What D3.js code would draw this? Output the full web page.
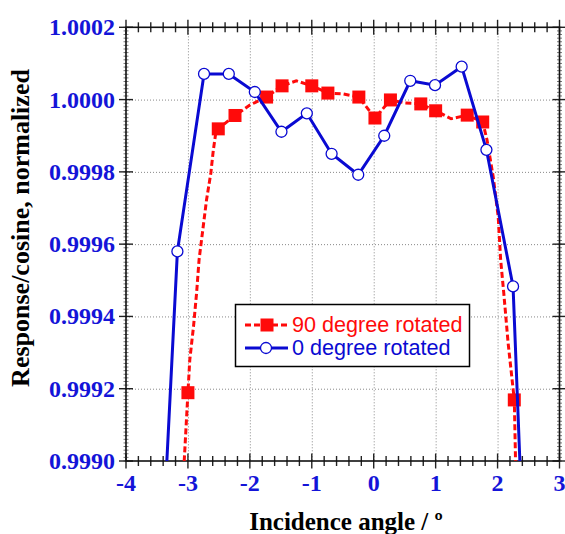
<!DOCTYPE html>
<meta charset="utf-8">
<script src="https://cdn.jsdelivr.net/npm/d3@7"></script>
<style>
body { margin: 0; background: #fff; }
.tick-label { font: bold 24px "Liberation Serif", "Times New Roman", serif; fill: #1414d8; }
.axis-title { font: bold 25px "Liberation Serif", "Times New Roman", serif; fill: #000; }
.legend-text { font: 21.6px "Liberation Sans", Arial, sans-serif; }
</style>
<body>
<script>

// 90 degree rotated: dashed line and its square markers
var redLineX = [-3.12, -3.06, -3.0, -2.97, -2.91, -2.86, -2.82, -2.70, -2.63, -2.59, -2.55, -2.51,
                -2.24, -2.0, -1.73, -1.48, -1.25, -1.0, -0.74, -0.5, -0.24, 0.02, 0.27, 0.5, 0.76,
                1.0, 1.25, 1.51, 1.76, 1.83, 1.93, 2.01, 2.05, 2.10, 2.17, 2.27, 2.29, 2.32];
var redLineY = [0.99880, 0.99900, 0.999189, 0.99928, 0.999372, 0.999465, 0.999557, 0.999722, 0.999797, 0.99986, 0.999908, 0.999919,
                0.999956, 0.999985, 1.000007, 1.000038, 1.000052, 1.000038, 1.000018, 1.000016, 1.000007, 0.999949, 0.999999, 0.999991, 0.999988,
                0.999969, 0.999947, 0.999957, 0.999938, 0.999888, 0.999786, 0.999676, 0.999556, 0.999465, 0.999327, 0.999169, 0.999003, 0.99880];
var redMarkX = [-3.0, -2.51, -2.24, -1.73, -1.48, -1.0, -0.74, -0.24, 0.02, 0.27, 0.76, 1.0, 1.51, 1.76, 2.27];
var redMarkY = [0.999189, 0.999919, 0.999956, 1.000007, 1.000038, 1.000038, 1.000018, 1.000007, 0.999949, 0.999999, 0.999988, 0.999969, 0.999957, 0.999938, 0.999169];

// 0 degree rotated
var blueX = [-3.59, -3.17, -2.74, -2.34, -1.92, -1.49, -1.08, -0.68, -0.25, 0.17, 0.59, 0.99, 1.42, 1.82, 2.25, 2.67];
var blueY = [0.99815, 0.99958, 1.000071, 1.000071, 1.000021, 0.999911, 0.999962, 0.99985, 0.999792, 0.9999, 1.000052, 1.00004, 1.000091, 0.999861, 0.999483, 0.99764];

var xTicks = [-4, -3, -2, -1, 0, 1, 2, 3];
var yTicks = [0.9990, 0.9992, 0.9994, 0.9996, 0.9998, 1.0000, 1.0002];
var seriesNames = ["90 degree rotated", "0 degree rotated"];

var width = 565, height = 534;
var pL = 126, pR = 559.5, pT = 27.3, pB = 461;
var red = "#ff0a0a", blue = "#0a0ad2";

var x = d3.scaleLinear().domain([-4, 3]).range([pL, pR]);
var y = d3.scaleLinear().domain([0.9990, 1.0002]).range([pB, pT]);

var svg = d3.select("body").append("svg")
    .attr("width", width)
    .attr("height", height);

svg.append("clipPath").attr("id", "plot")
  .append("rect")
    .attr("x", pL).attr("y", pT)
    .attr("width", pR - pL).attr("height", pB - pT);

// grid
var grid = svg.append("g").attr("stroke", "#888").attr("stroke-width", 1).attr("stroke-dasharray", "1,2");
grid.selectAll(".gx").data(xTicks.slice(1, -1)).enter().append("line")
    .attr("x1", function(d) { return x(d) + 0.5; }).attr("x2", function(d) { return x(d) + 0.5; })
    .attr("y1", pT).attr("y2", pB);
grid.selectAll(".gy").data(yTicks.slice(1, -1)).enter().append("line")
    .attr("y1", function(d) { return y(d) + 0.5; }).attr("y2", function(d) { return y(d) + 0.5; })
    .attr("x1", pL).attr("x2", pR);

// ticks
var ticks = svg.append("g").attr("stroke", "#222");
var xMinor = d3.range(-40, 31, 2).map(function(d) { return d / 10; });
[pB, pT].forEach(function(yy) {
  ticks.selectAll(null).data(xMinor).enter().append("line")
      .attr("x1", function(d) { return x(d); }).attr("x2", function(d) { return x(d); })
      .attr("y1", function(d) { return yy - (Math.abs(d % 1) < 1e-9 ? 7.5 : 5); })
      .attr("y2", function(d) { return yy + (Math.abs(d % 1) < 1e-9 ? 7.5 : 5); })
      .attr("stroke-width", 1.4);
});
var yMinor = d3.range(0, 121).map(function(i) { return 0.9990 + i * 0.00001; });
[pL, pR].forEach(function(xx) {
  ticks.selectAll(null).data(yMinor).enter().append("line")
      .attr("y1", function(d) { return y(d); }).attr("y2", function(d) { return y(d); })
      .attr("x1", xx - 2.5).attr("x2", xx + 2.5)
      .attr("stroke", "#777").attr("stroke-width", 1);
  ticks.selectAll(null).data(yTicks).enter().append("line")
      .attr("y1", function(d) { return y(d); }).attr("y2", function(d) { return y(d); })
      .attr("x1", xx - 7).attr("x2", xx + 7)
      .attr("stroke-width", 1.4);
});

// frame
svg.append("rect")
    .attr("x", pL).attr("y", pT)
    .attr("width", pR - pL).attr("height", pB - pT)
    .attr("fill", "none").attr("stroke", "#111").attr("stroke-width", 1.6);

// tick labels
svg.selectAll(".xl").data(xTicks).enter().append("text")
    .attr("class", "tick-label")
    .attr("x", function(d) { return x(d); })
    .attr("y", 491)
    .attr("text-anchor", "middle")
    .text(function(d) { return d; });
svg.selectAll(".yl").data(yTicks).enter().append("text")
    .attr("class", "tick-label")
    .attr("x", 115)
    .attr("y", function(d) { return y(d) + 8; })
    .attr("text-anchor", "end")
    .text(function(d) { return d.toFixed(4); });

// titles
svg.append("text").attr("class", "axis-title")
    .attr("x", 346).attr("y", 530)
    .attr("text-anchor", "middle")
    .text("Incidence angle / º");
svg.append("text").attr("class", "axis-title")
    .attr("transform", "translate(29,228) rotate(-90)")
    .attr("text-anchor", "middle")
    .style("font-size", "26px")
    .text("Response/cosine, normalized");

// series
var plot = svg.append("g").attr("clip-path", "url(#plot)");

var redLine = d3.line()
    .x(function(d, i) { return x(redLineX[i]); })
    .y(function(d, i) { return y(redLineY[i]); });
plot.append("path")
    .attr("d", redLine(redLineX))
    .attr("fill", "none").attr("stroke", red).attr("stroke-width", 3)
    .attr("stroke-dasharray", "6,3");
plot.selectAll(".sq").data(redMarkX).enter().append("rect")
    .attr("x", function(d) { return x(d) - 6.5; })
    .attr("y", function(d, i) { return y(redMarkY[i]) - 6.5; })
    .attr("width", 13).attr("height", 13)
    .attr("fill", red);

var blueLine = d3.line()
    .x(function(d, i) { return x(blueX[i]); })
    .y(function(d, i) { return y(blueY[i]); });
plot.append("path")
    .attr("d", blueLine(blueX))
    .attr("fill", "none").attr("stroke", blue).attr("stroke-width", 3);
plot.selectAll(".ci").data(blueX).enter().append("circle")
    .attr("cx", function(d) { return x(d); })
    .attr("cy", function(d, i) { return y(blueY[i]); })
    .attr("r", 5.5)
    .attr("fill", "#fff").attr("stroke", blue).attr("stroke-width", 1.3);

// legend
var lg = svg.append("g");
lg.append("rect")
    .attr("x", 235.5).attr("y", 304.5).attr("width", 234).attr("height", 62)
    .attr("fill", "#fff").attr("stroke", "#000").attr("stroke-width", 1.5);
lg.append("line").attr("x1", 245).attr("x2", 288).attr("y1", 325).attr("y2", 325)
    .attr("stroke", red).attr("stroke-width", 3).attr("stroke-dasharray", "6,3");
lg.append("rect").attr("x", 267 - 6.5).attr("y", 325 - 6.5).attr("width", 13).attr("height", 13)
    .attr("fill", red);
lg.append("line").attr("x1", 245).attr("x2", 288).attr("y1", 348).attr("y2", 348)
    .attr("stroke", blue).attr("stroke-width", 3);
lg.append("circle").attr("cx", 266).attr("cy", 348).attr("r", 5.5)
    .attr("fill", "#fff").attr("stroke", blue).attr("stroke-width", 1.3);
lg.selectAll(".lt").data(seriesNames).enter().append("text")
    .attr("class", "legend-text")
    .attr("x", 292)
    .attr("y", function(d, i) { return 332 + i * 23; })
    .attr("fill", function(d, i) { return i ? blue : red; })
    .text(function(d) { return d; });

</script>
</body>
</html>
